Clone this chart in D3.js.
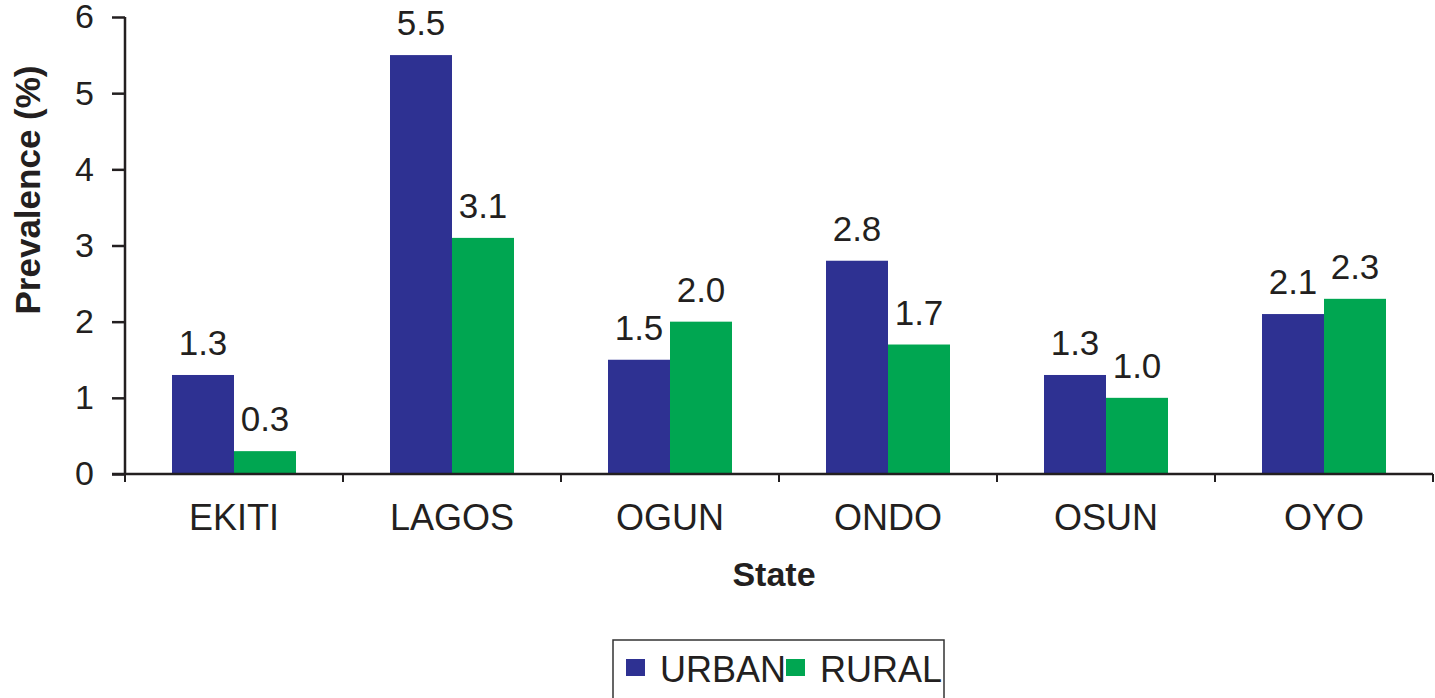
<!DOCTYPE html>
<html>
<head>
<meta charset="utf-8">
<script src="https://cdn.jsdelivr.net/npm/d3@7"></script>
<style>
    body { margin: 0; background: #fff; }
    svg { display: block; font-family: "Liberation Sans", Arial, sans-serif; }
</style>
</head>
<body>
<svg id="chart"></svg>
<script>
const states = ["EKITI", "LAGOS", "OGUN", "ONDO", "OSUN", "OYO"];
const urban = [1.3, 5.5, 1.5, 2.8, 1.3, 2.1];
const rural = [0.3, 3.1, 2.0, 1.7, 1.0, 2.3];
const seriesNames = ["URBAN", "RURAL"];
const seriesColors = ["#2E3192", "#00A651"];
const yTicks = [0, 1, 2, 3, 4, 5, 6];

const width = 1435, height = 698;
const textColor = "#231F20";

const svg = d3.select("#chart").attr("width", width).attr("height", height);

const margin = { top: 17, right: 2, bottom: 224, left: 125 };
const plotW = width - margin.left - margin.right;
const plotH = height - margin.top - margin.bottom;

const g = svg.append("g").attr("transform", `translate(${margin.left},${margin.top})`);

const x = d3.scaleBand().domain(states).range([0, plotW]).paddingInner(0).paddingOuter(0);
const x1 = d3.scaleBand().domain(seriesNames).range([0, 124]);
const y = d3.scaleLinear().domain([0, 6]).range([plotH, 0]);

const rows = states.map((s, i) => ({ state: s, values: [urban[i], rural[i]] }));

// bars
const groups = g.selectAll("g.state")
    .data(rows)
    .enter().append("g")
    .attr("class", "state")
    .attr("transform", d => `translate(${x(d.state) + (x.bandwidth() - 124) / 2},0)`);

groups.selectAll("rect")
    .data(d => d.values.map((v, k) => ({ key: seriesNames[k], value: v, k })))
    .enter().append("rect")
    .attr("x", d => x1(d.key))
    .attr("y", d => y(d.value))
    .attr("width", x1.bandwidth())
    .attr("height", d => plotH - y(d.value))
    .attr("fill", d => seriesColors[d.k]);

groups.selectAll("text.val")
    .data(d => d.values.map((v, k) => ({ key: seriesNames[k], value: v })))
    .enter().append("text")
    .attr("class", "val")
    .attr("x", d => x1(d.key) + x1.bandwidth() / 2)
    .attr("y", d => y(d.value) - 20)
    .attr("text-anchor", "middle")
    .attr("font-size", 35)
    .attr("fill", textColor)
    .text(d => d.value.toFixed(1));

// y axis
const yAxis = g.append("g")
    .call(d3.axisLeft(y).tickValues(yTicks).tickSize(13).tickPadding(18).tickFormat(d3.format("d")));
yAxis.select(".domain").attr("d", `M0,0V${plotH}`);

// x axis
const xAxis = g.append("g")
    .attr("transform", `translate(0,${plotH})`)
    .call(d3.axisBottom(x).tickSize(0).tickPadding(30));
xAxis.select(".domain").attr("d", `M-13,0H${plotW}`);
xAxis.selectAll(".tick text").attr("dy", "0.71em");

// category separators on the x axis
g.append("g").selectAll("line")
    .data(states.concat(["end"]))
    .enter().append("line")
    .attr("x1", (d, i) => i < states.length ? x(d) : plotW)
    .attr("x2", (d, i) => i < states.length ? x(d) : plotW)
    .attr("y1", plotH)
    .attr("y2", plotH + 8)
    .attr("stroke", textColor)
    .attr("stroke-width", 2);

g.selectAll(".domain, .tick line").attr("stroke", textColor).attr("stroke-width", 2.5);
yAxis.selectAll(".tick text").attr("font-size", 34).attr("fill", textColor);
xAxis.selectAll(".tick text").attr("font-size", 36).attr("fill", textColor);
g.selectAll(".tick text").attr("font-family", "Liberation Sans, Arial, sans-serif");

// axis titles
svg.append("text")
    .attr("transform", `translate(40,${margin.top + 173}) rotate(-90)`)
    .attr("text-anchor", "middle")
    .attr("font-size", 35)
    .attr("font-weight", "bold")
    .attr("fill", textColor)
    .text("Prevalence (%)");

svg.append("text")
    .attr("x", 774)
    .attr("y", 586)
    .attr("text-anchor", "middle")
    .attr("font-size", 34)
    .attr("font-weight", "bold")
    .attr("fill", textColor)
    .text("State");

// legend
const legend = svg.append("g").attr("transform", "translate(613,640)");
legend.append("rect")
    .attr("width", 331).attr("height", 60)
    .attr("fill", "none").attr("stroke", "#333").attr("stroke-width", 1.5);

const legendX = [13, 173];
const items = legend.selectAll("g.item")
    .data(seriesNames)
    .enter().append("g")
    .attr("class", "item")
    .attr("transform", (d, i) => `translate(${legendX[i]},0)`);
items.append("rect")
    .attr("y", 19).attr("width", 19).attr("height", 17)
    .attr("fill", (d, i) => seriesColors[i]);
items.append("text")
    .attr("x", 34).attr("y", 42)
    .attr("font-size", 36)
    .attr("fill", textColor)
    .text(d => d);
</script>
</body>
</html>
